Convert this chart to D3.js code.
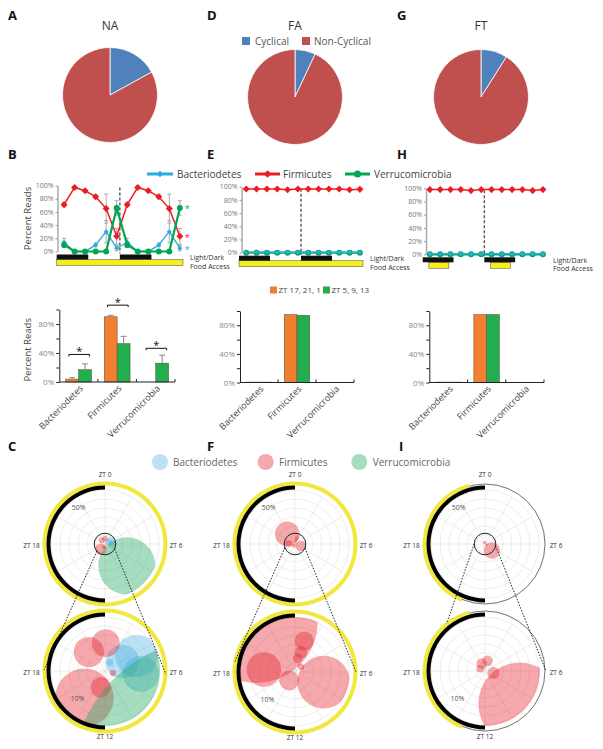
<!DOCTYPE html>
<html><head><meta charset="utf-8">
<script src="https://cdn.jsdelivr.net/npm/d3@7/dist/d3.min.js"></script>
<style>
html,body{margin:0;padding:0;background:#fff;}
svg{display:block;}
text{font-family:"Open Sans",sans-serif;}
</style></head>
<body>
<svg id="fig" width="603" height="749"></svg>
<script>
// ================= DATA =================
const groups = ["NA","FA","FT"];
const pieCategories = ["Cyclical","Non-Cyclical"];
const pieNA = [17,83];
const pieFA = [7,93];
const pieFT = [9,91];

const phyla = ["Bacteriodetes","Firmicutes","Verrucomicrobia"];
// sampling times in hours after ZT12 (ZT 13,17,21,1,5,9 over two days)
const sampleHours = [2.8,6.8,10.8,14.8,18.8,22.8,26.8,30.8,34.8,38.8,42.8,46.8];
const lineTicks = [0,20,40,60,80,100];

const naBac = [14,0,0,10,30,5,14,0,0,10,30,5];
const naFir = [71,97,92,83,65,23,71,97,92,83,65,23];
const naVer = [10,0,0,0,0,66,10,0,0,0,0,66];
const naBacErr = [6,1,1,3,17,4,6,1,1,3,17,4];
const naFirErr = [3,2,2,3,22,12,3,2,2,3,22,12];
const naVerErr = [4,1,1,1,1,11,4,1,1,1,1,11];

const faBac = [0.6,0.6,0.6,0.6,0.6,0.6,0.6,0.6,0.6,0.6,0.6,0.6];
const faFir = [96.5,96.5,96.5,96.5,95.5,96.5,96.5,96.5,96.5,96.5,95.5,96];
const faVer = [0,0,0,0,0,0,0,0,0,0,0,0];

const ftBac = [0.6,0.6,0.6,0.6,0.6,0.6,0.6,0.6,0.6,0.6,0.6,0.6];
const ftFir = [98,98,98,98,96.5,98,98,98,98,98,96.5,98];
const ftVer = [0,0,0,0,0,0,0,0,0,0,0,0];

const darkHours = [[0,12],[24,36]];
const foodAdLib = [[0,48]];
const foodRestricted = [[2.4,10.2],[26.4,34.2]];

const barGroups = ["ZT 17, 21, 1","ZT 5, 9, 13"];
const barTicks = [0,20,40,60,80,100];
const barLabelTicks = [0,40,80];
const naEarly = [4,90,0], naLate = [17,53,26];
const naEarlyErr = [2,2,0], naLateErr = [8,10,11];
const naSig = [38,106,46.5];
const faEarly = [0.6,95,0.1], faLate = [0.6,94,0.1];
const ftEarly = [0.6,95,0], ftLate = [0.6,95,0];

// polar petals: [phylum index, ZT centre (h), spread (h), value (%)]
const polarNA = [
  [0,4.3,5,12.5],[0,4.1,7.7,8.1],[0,6.3,4,12],[0,2,3,3],
  [1,21.3,5,8.9],[1,0.1,4,9.3],[1,14.5,8,14],[1,13,5,6],[1,7,3,2.5],
  [2,9,9,66]
];
const polarFA = [
  [0,3,3,0.6],
  [1,21.5,10,27.8],[1,18.3,4.5,10.8],[1,7.3,8,12.6],[1,1.1,2.3,9.3],
  [1,1.1,2.3,5.9],[1,0.7,2.6,4.1],[1,14.3,10,4.5],[1,3.2,3.2,2.5]
];
const polarFT = [
  [0,0,3,1],
  [1,8.9,8,19.7],[1,0.9,4.1,3.5],[1,22.4,5.2,3],[1,6.9,5.9,3.3],[1,19.7,6.1,2]
];
const polarFoodNA = [[0,24]], polarFoodFA = [[0,24]], polarFoodFT = [[13.5,23]];
const polarDark = [12,24];
const upperMax = 60, lowerMax = 12;

// ================= STYLE =================
const svg = d3.select("#fig");
const lineColors = ["#29abe2","#ed1c24","#00a651"];
const barColors = ["#f0802f","#22ad4e"];
const pieColors = ["#4f81bd","#c0504d"];
const petalFill = ["rgba(60,170,225,0.35)","rgba(230,30,40,0.38)","rgba(40,170,100,0.41)"];

// panel letters
[["A",8,20],["D",207,20],["G",397,20],["B",8,159],["E",207,159],["H",397,159],["C",8,451],["F",207,451],["I",399,451]]
.forEach(([t,x,y])=>svg.append("text").attr("x",x).attr("y",y).attr("font-size",13).attr("font-weight","bold")
  .attr("font-family","Liberation Sans, Arial, sans-serif").attr("fill","#111").text(t));

// ================= PIES =================
const pieSets = [pieNA,pieFA,pieFT];
const pieCenters = [[110,95],[295,97],[481,97]];
const pieGen = d3.pie().sort(null);
const pieArc = d3.arc().innerRadius(0).outerRadius(47.5);
pieSets.forEach((vals,i)=>{
  const g = svg.append("g").attr("transform",`translate(${pieCenters[i][0]},${pieCenters[i][1]})`);
  g.selectAll("path").data(pieGen(vals)).join("path").attr("d",pieArc)
    .attr("fill",(d,j)=>pieColors[j]).attr("stroke","#fff").attr("stroke-width",0.8);
  svg.append("text").attr("x",pieCenters[i][0]).attr("y",30).attr("text-anchor","middle")
    .attr("font-size",12).attr("fill","#333").text(groups[i]);
});
[[242,255],[302,314]].forEach(([sx,tx],i)=>{
  svg.append("rect").attr("x",sx).attr("y",37).attr("width",8).attr("height",8).attr("fill",pieColors[i]);
  svg.append("text").attr("x",tx).attr("y",44.5).attr("font-size",10).attr("fill","#555").text(pieCategories[i]);
});

// ================= LINE LEGEND =================
function marker(sel, k, x, y, big){
  if(k===2){
    sel.append("path").attr("d",d3.symbol(d3.symbolCircle, big?40:28)()).attr("transform",`translate(${x},${y})`).attr("fill",lineColors[k]);
  } else {
    const s = k===0 ? (big?20:13) : (big?30:25);
    sel.append("path").attr("d",d3.symbol(d3.symbolSquare, s)()).attr("transform",`translate(${x},${y}) rotate(45)`).attr("fill",lineColors[k]);
  }
}
[[147,173,177],[255,280,283],[345,370,374]].forEach(([a,b,t],k)=>{
  svg.append("line").attr("x1",a).attr("x2",b).attr("y1",174).attr("y2",174).attr("stroke",lineColors[k]).attr("stroke-width",3);
  marker(svg,k,(a+b)/2,174,true);
  svg.append("text").attr("x",t).attr("y",177.5).attr("font-size",10).attr("fill","#444").text(phyla[k]);
});

// ================= LINE CHARTS =================
function lineChart(cfg){
  const x = d3.scaleLinear().domain([0,48]).range(cfg.xr);
  const y = d3.scaleLinear().domain([0,100]).range([cfg.y0,cfg.y100]);
  const g = svg.append("g");
  const ax = g.append("g").attr("transform",`translate(${x(cfg.axisH)},0)`)
    .call(d3.axisLeft(y).tickValues(lineTicks).tickSize(2).tickSizeOuter(0).tickPadding(2).tickFormat(d=>d+"%"));
  ax.select(".domain").attr("stroke","#aaa").attr("stroke-width",1.5);
  ax.selectAll(".tick line").attr("stroke","#999");
  ax.selectAll(".tick text").attr("fill","#777").attr("font-size",7).attr("font-family","Open Sans");
  g.append("line").attr("x1",x(24)).attr("x2",x(24)).attr("y1",y(100)+2).attr("y2",cfg.y0+2)
    .attr("stroke","#555").attr("stroke-width",1.4).attr("stroke-dasharray","3,2");
  if(cfg.errs){
    cfg.order.forEach(k=>{
      cfg.series[k].forEach((v,i)=>{
        const e = cfg.errs[k][i], xx = x(sampleHours[i]);
        g.append("line").attr("x1",xx).attr("x2",xx).attr("y1",y(v-e)).attr("y2",y(v+e)).attr("stroke","#aaa").attr("stroke-width",1);
        [v-e,v+e].forEach(w=>g.append("line").attr("x1",xx-2).attr("x2",xx+2).attr("y1",y(w)).attr("y2",y(w)).attr("stroke","#aaa").attr("stroke-width",1));
      });
    });
  }
  const ln = d3.line().x((d,i)=>x(sampleHours[i])).y(d=>y(d));
  cfg.order.forEach(k=>{
    g.append("path").attr("d",ln(cfg.series[k])).attr("fill","none").attr("stroke",lineColors[k])
      .attr("stroke-width",k===2?2.2:(k===1?1.5:1.3));
    cfg.series[k].forEach((v,i)=>marker(g,k,x(sampleHours[i]),y(v),false));
  });
  cfg.food.forEach(([a,b])=>g.append("rect").attr("x",x(a)).attr("width",x(b)-x(a)).attr("y",cfg.y0+8).attr("height",6)
    .attr("fill","#f6ee1a").attr("stroke","#444").attr("stroke-width",0.5));
  darkHours.forEach(([a,b])=>g.append("rect").attr("x",x(a)).attr("width",x(b)-x(a)).attr("y",cfg.y0+3).attr("height",5).attr("fill","#111"));
  g.append("text").attr("x",cfg.xr[1]+7).attr("y",cfg.y0+8.5).attr("font-size",7).attr("fill","#333").text("Light/Dark");
  g.append("text").attr("x",cfg.xr[1]+7).attr("y",cfg.y0+17).attr("font-size",7).attr("fill","#333").text("Food Access");
  if(cfg.stars){
    cfg.order.forEach(k=>{
      const v = cfg.series[k][cfg.series[k].length-1];
      g.append("text").attr("x",x(sampleHours[11])+5).attr("y",y(v)+4.5).attr("font-size",9).attr("fill",lineColors[k]).text("*");
    });
  }
  if(cfg.ylabel){
    g.append("text").attr("transform",`translate(31,${(cfg.y0+cfg.y100)/2}) rotate(-90)`).attr("text-anchor","middle")
      .attr("font-size",9.5).attr("fill","#444").text("Percent Reads");
  }
}
lineChart({xr:[56.7,183],y0:251.5,y100:185.5,axisH:0.3,series:[naBac,naFir,naVer],errs:[naBacErr,naFirErr,naVerErr],
  order:[0,1,2],food:foodAdLib,stars:true,ylabel:true});
lineChart({xr:[239,363],y0:252.7,y100:186.7,axisH:1,series:[faBac,faFir,faVer],order:[2,1,0],food:foodAdLib});
lineChart({xr:[422.7,546],y0:254.3,y100:188.3,axisH:1.3,series:[ftBac,ftFir,ftVer],order:[2,1,0],food:foodRestricted});

// ================= BAR LEGEND =================
[[270,278.5],[323,331.5]].forEach(([sx,tx],i)=>{
  svg.append("rect").attr("x",sx).attr("y",286.5).attr("width",7).attr("height",7).attr("fill",barColors[i]);
  svg.append("text").attr("x",tx).attr("y",293.3).attr("font-size",8).attr("fill","#444").text(barGroups[i]);
});

// ================= BAR CHARTS =================
function barChart(cfg){
  const x0 = d3.scaleBand().domain(phyla).range(cfg.xr).paddingInner(0).paddingOuter(0);
  const bw = x0.bandwidth();
  const x1 = d3.scaleBand().domain(barGroups).range([bw*0.165,bw*0.835]);
  const y = d3.scaleLinear().domain([0,100]).range([cfg.y0,cfg.y100]);
  const g = svg.append("g");
  const vals = [cfg.early,cfg.late], errs = cfg.errs;
  phyla.forEach((p,j)=>{
    barGroups.forEach((bg,k)=>{
      const v = vals[k][j];
      g.append("rect").attr("x",x0(p)+x1(bg)).attr("width",x1.bandwidth()).attr("y",y(v)).attr("height",cfg.y0-y(v))
        .attr("fill",barColors[k]).attr("stroke","#5a4a3a").attr("stroke-width",0.5);
      if(errs && errs[k][j]>0){
        const cx = x0(p)+x1(bg)+x1.bandwidth()/2;
        g.append("line").attr("x1",cx).attr("x2",cx).attr("y1",y(v)).attr("y2",y(v+errs[k][j])).attr("stroke","#888").attr("stroke-width",1);
        g.append("line").attr("x1",cx-3).attr("x2",cx+3).attr("y1",y(v+errs[k][j])).attr("y2",y(v+errs[k][j])).attr("stroke","#888").attr("stroke-width",1);
      }
    });
  });
  const ax = g.append("g").attr("transform",`translate(${cfg.xr[0]},0)`)
    .call(d3.axisLeft(y).tickValues(barTicks).tickSize(3).tickSizeOuter(0).tickPadding(2)
      .tickFormat(d=>barLabelTicks.includes(d)?d+"%":""));
  ax.select(".domain").attr("stroke","#222");
  ax.selectAll(".tick line").attr("stroke","#222");
  ax.selectAll(".tick text").attr("fill","#888").attr("font-size",8).attr("font-family","Open Sans");
  g.append("line").attr("x1",cfg.xr[0]).attr("x2",cfg.xr[1]).attr("y1",cfg.y0).attr("y2",cfg.y0).attr("stroke","#222");
  phyla.forEach((p,j)=>{
    const xb = x0(p)+bw;
    g.append("line").attr("x1",xb).attr("x2",xb).attr("y1",cfg.y0).attr("y2",cfg.y0-3).attr("stroke","#222");
    g.append("text").attr("transform",`translate(${x0(p)+bw/2+5},${cfg.y0+7}) rotate(-45)`).attr("text-anchor","end")
      .attr("font-size",9).attr("fill","#444").text(p);
  });
  if(cfg.sig){
    phyla.forEach((p,j)=>{
      const a = x0(p)+x1(barGroups[0])+x1.bandwidth()*0.25, b = x0(p)+x1(barGroups[1])+x1.bandwidth()*0.85, yy = y(cfg.sig[j]);
      g.append("path").attr("d",`M${a},${yy+2}V${yy}H${b}V${yy+2}`).attr("fill","none").attr("stroke","#111").attr("stroke-width",1);
      g.append("text").attr("x",(a+b)/2).attr("y",yy+1).attr("text-anchor","middle").attr("font-size",11).attr("fill","#111").text("*");
    });
  }
  if(cfg.ylabel){
    g.append("text").attr("transform",`translate(31,${(cfg.y0+cfg.y100)/2+4}) rotate(-90)`).attr("text-anchor","middle")
      .attr("font-size",9.5).attr("fill","#444").text("Percent Reads");
  }
}
barChart({xr:[59.3,175],y0:382,y100:309.5,early:naEarly,late:naLate,errs:[naEarlyErr,naLateErr],sig:naSig,ylabel:true});
barChart({xr:[240,354],y0:382.5,y100:311,early:faEarly,late:faLate});
barChart({xr:[429.3,544],y0:382.5,y100:311,early:ftEarly,late:ftLate});

// ================= POLAR LEGEND =================
[[160,173],[265.7,279],[359.3,372.7]].forEach(([cx,tx],k)=>{
  svg.append("circle").attr("cx",cx).attr("cy",462).attr("r",8).attr("fill",petalFill[k]);
  svg.append("text").attr("x",tx).attr("y",465.5).attr("font-size",10).attr("fill","#666").text(phyla[k]);
});

// ================= POLAR CHARTS =================
const R = 54;
const rUp = d3.scaleLinear().domain([0,upperMax]).range([0,R]);
const rLow = d3.scaleLinear().domain([0,lowerMax]).range([0,R]);
const ang = d3.scaleLinear().domain([0,24]).range([0,2*Math.PI]);
const rad = d=>d*Math.PI/180;

// each petal: round blob inscribed in the sector [zt ± spread/2] reaching radius r(value)
function petal(d, r){
  const Rv = r(d[3]), s = Math.sin(ang(d[2])/2), rho = Rv*s/(1+s), c = Rv-rho, a = ang(d[1]);
  return {x:c*Math.sin(a), y:-c*Math.cos(a), r:rho};
}

function drawPolar(cfg, idx){
  const views = [{cy:cfg.cyU,r:rUp,upper:true},{cy:cfg.cyL,r:rLow,upper:false}];
  views.forEach((v,k)=>{
    const g = svg.append("g").attr("transform",`translate(${cfg.cx},${v.cy})`);
    const cid = `clip${idx}_${k}`;
    g.append("defs").append("clipPath").attr("id",cid).append("circle").attr("r",R+1);
    g.selectAll("circle.ring").data(d3.range(1,7)).join("circle").attr("class","ring").attr("r",d=>d*9)
      .attr("fill","none").attr("stroke","#e0e0e0").attr("stroke-width",0.6);
    g.selectAll("line.spoke").data(d3.range(12)).join("line").attr("class","spoke")
      .attr("x1",0).attr("y1",0).attr("x2",d=>R*Math.sin(d*Math.PI/6)).attr("y2",d=>-R*Math.cos(d*Math.PI/6))
      .attr("stroke","#e0e0e0").attr("stroke-width",0.6);
    const pg = g.append("g").attr("clip-path",`url(#${cid})`);
    pg.selectAll("circle").data(cfg.petals.map(d=>({d, p:petal(d,v.r)}))).join("circle")
      .attr("cx",e=>e.p.x).attr("cy",e=>e.p.y).attr("r",e=>e.p.r)
      .attr("fill",e=>petalFill[e.d[0]]);
    g.append("circle").attr("r",60).attr("fill","none").attr("stroke","#333").attr("stroke-width",0.7);
    cfg.food.forEach(f=>g.append("path").attr("d",d3.arc().innerRadius(58.5).outerRadius(62.5).startAngle(ang(f[0])).endAngle(ang(f[1]))())
      .attr("fill","#f1e83e"));
    g.append("path").attr("d",d3.arc().innerRadius(54.5).outerRadius(58.5).startAngle(ang(polarDark[0])).endAngle(ang(polarDark[1]))())
      .attr("fill","#000");
    const lab = (t,x,y)=>g.append("text").attr("x",x).attr("y",y).attr("text-anchor","middle").attr("dominant-baseline","central")
      .attr("font-size",6.5).attr("fill","#333").text(t);
    lab("ZT 6",71,1); lab("ZT 18",-73.5,1);
    if(v.upper){
      lab("ZT 0",0,-70);
      const rr = rUp(50), a = rad(-36);
      g.append("text").attr("x",rr*Math.sin(a)).attr("y",-rr*Math.cos(a)).attr("text-anchor","middle").attr("dominant-baseline","central")
        .attr("font-size",7).attr("fill","#555").text("50%");
      g.append("circle").attr("r",rUp(lowerMax)).attr("fill","none").attr("stroke","#222").attr("stroke-width",1);
    } else {
      lab("ZT 12",0,65);
      const rr = rLow(10)-6, a = rad(225);
      g.append("text").attr("x",rr*Math.sin(a)).attr("y",-rr*Math.cos(a)).attr("text-anchor","middle").attr("dominant-baseline","central")
        .attr("font-size",7).attr("fill","#555").text("10%");
    }
  });
  const lr = rUp(lowerMax);
  [[cfg.lines[0],cfg.lines[1]],[cfg.lines[2],cfg.lines[3]]].forEach(([a,b])=>{
    svg.append("line")
      .attr("x1",cfg.cx+lr*Math.sin(rad(a))).attr("y1",cfg.cyU-lr*Math.cos(rad(a)))
      .attr("x2",cfg.cx+61*Math.sin(rad(b))).attr("y2",cfg.cyL-61*Math.cos(rad(b)))
      .attr("stroke","#222").attr("stroke-width",1).attr("stroke-dasharray","1.5,1.5");
  });
}
drawPolar({cx:105,cyU:544,cyL:671,petals:polarNA,food:polarFoodNA,lines:[229,271,117,93]},0);
drawPolar({cx:295,cyU:544,cyL:672,petals:polarFA,food:polarFoodFA,lines:[250,280,113,90]},1);
drawPolar({cx:485,cyU:544,cyL:671,petals:polarFT,food:polarFoodFT,lines:[270,321,101,90]},2);
</script>
</body></html>
